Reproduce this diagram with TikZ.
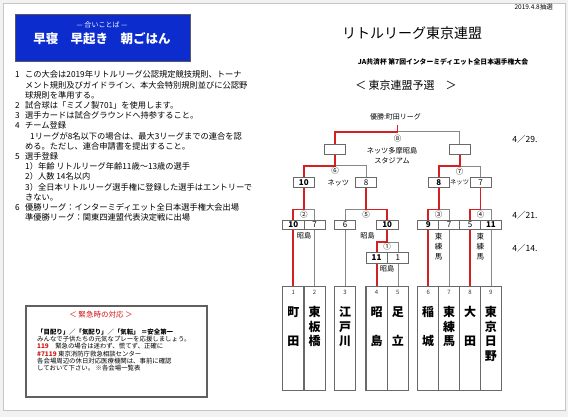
\documentclass[tikz,border=0pt]{standalone}
\usepackage{fontspec}
\setmainfont{Noto Sans CJK JP}
\definecolor{blu}{RGB}{12,44,205}
\definecolor{rd}{RGB}{212,32,32}
\definecolor{gl}{RGB}{135,135,135}
\definecolor{bx}{RGB}{105,105,105}
\definecolor{er}{RGB}{210,20,20}
\pgfdeclarelayer{bgfill}
\pgfdeclarelayer{lines}
\pgfsetlayers{bgfill,lines,main}
\newcommand{\fs}[2]{\fontsize{#1}{#2}\selectfont}
\begin{document}
\begin{tikzpicture}[x=1pt,y=-1pt,
  redl/.style={draw=rd,line width=1.8pt},
  grl/.style={draw=gl,line width=0.8pt},
  team/.style={draw=bx,line width=1.2pt,fill=white,minimum width=#1,minimum height=104.3pt,anchor=north,inner sep=0pt},
  team/.default=21.3pt,
  score/.style={draw=bx,line width=0.7pt,fill=white,minimum width=#1,minimum height=10pt,inner sep=0pt,font=\fs{8}{8}},
  score/.default=21.3pt,
  win/.style={font=\fs{8}{8}\bfseries},
  num/.style={inner sep=0pt,font=\fs{6}{6},text=black!80},
  tname/.style={inner sep=0pt,anchor=north,align=center,font=\fs{12}{14.6}\bfseries},
  circ/.style={inner sep=0pt,font=\fs{7.5}{7.5}},
  venue/.style={inner sep=0pt,font=\fs{7.2}{10},align=center},
  date/.style={inner sep=0pt,font=\fs{8.5}{8.5}},
  rules/.style={inner sep=0pt,anchor=north west,align=left,font=\fs{8.25}{10.2}}
]
\useasboundingbox (0,0) rectangle (568,417);
\begin{pgfonlayer}{bgfill}
\fill[gray!10] (0,0) rectangle (568,417);
\filldraw[fill=white,draw=gray!45,line width=0.8pt] (3,3) rectangle (565,410);
\end{pgfonlayer}

% ---- top-left slogan box
\node[draw=gray!70!black,line width=0.8pt,fill=blu,minimum width=175pt,minimum height=47pt,inner sep=0pt] (slogan) at (102.5,37.5) {};
\node[inner sep=0pt,text=white,font=\fs{7}{7}] (aikotoba) at (102,25) {— 合いことば —};
\node[inner sep=0pt,text=white,font=\fs{12.5}{12.5}\bfseries] (haya) at (102,38.5) {早寝　早起き　朝ごはん};

% ---- rules
\node[rules] (rulestext) at (15,70.8) {%
\makebox[10pt][l]{1}この大会は2019年リトルリーグ公認規定競技規則、トーナ\\
\hspace*{10pt}メント規則及びガイドライン、本大会特別規則並びに公認野\\
\hspace*{10pt}球規則を準用する。\\
\makebox[10pt][l]{2}試合球は「ミズノ製701」を使用します。\\
\makebox[10pt][l]{3}選手カードは試合グラウンドへ持参すること。\\
\makebox[10pt][l]{4}チーム登録\\
\hspace*{15pt}1リーグが8名以下の場合は、最大3リーグまでの連合を認\\
\hspace*{10pt}める。ただし、連合申請書を提出すること。\\
\makebox[10pt][l]{5}選手登録\\
\hspace*{10pt}1）年齢\ リトルリーグ年齢11歳～13歳の選手\\
\hspace*{10pt}2）人数\ 14名以内\\
\hspace*{10pt}3）全日本リトルリーグ選手権に登録した選手はエントリーで\\
\hspace*{10pt}きない。\\
\makebox[10pt][l]{6}優勝リーグ：インターミディエット全日本選手権大会出場\\
\hspace*{10pt}準優勝リーグ：関東四連盟代表決定戦に出場};

% ---- emergency box
\node[draw=gray!75!black,line width=1.3pt,minimum width=181pt,minimum height=91pt,inner sep=0pt] (emg) at (116.5,351.5) {};
\node[inner sep=0pt,text=er,font=\fs{7.5}{7.5}] (emgtitle) at (101,315) {＜ 緊急時の対応 ＞};
\node[inner sep=0pt,anchor=north west,align=left,font=\fs{6.4}{7.3}] (emgtext) at (37,328.5) {%
{\bfseries 「目配り」／「気配り」／「気転」 ＝安全第一}\\
みんなで子供たちの元気なプレーを応援しましょう。\\
{\color{er}\bfseries 119}\quad 緊急の場合は迷わず、慌てず、正確に\\
{\color{er}\bfseries\#7119} 東京消防庁救急相談センター\\
各会場周辺の休日対応医療機関は、事前に確認\\
しておいて下さい。 ※各会場一覧表};

% ---- header
\node[inner sep=0pt,anchor=east,font=\fs{6.5}{6.5}] (drawdate) at (553,7) {2019.4.8抽選};
\node[inner sep=0pt,font=\fs{14}{14}] (title) at (412,33) {リトルリーグ東京連盟};
\node[inner sep=0pt,font=\fs{6.8}{6.8}\bfseries] (subtitle) at (443,62) {JA共済杯\ 第7回インターミディエット全日本選手権大会};
\node[inner sep=0pt,font=\fs{11}{11}] (yosen) at (406,85) {＜ 東京連盟予選　＞};

% ---- team boxes
\node[team] (t1) at (293.3,285.7) {};
\node[team] (t2) at (314.6,285.7) {};
\node[team] (t3) at (345.0,285.7) {};
\node[team] (t4) at (376.6,285.7) {};
\node[team] (t5) at (397.9,285.7) {};
\node[team=20.9pt] (t6) at (428.2,285.7) {};
\node[team=20.9pt] (t7) at (449.1,285.7) {};
\node[team=20.9pt] (t8) at (470.0,285.7) {};
\node[team=20.9pt] (t9) at (490.9,285.7) {};
\foreach \i/\x in {1/293.3,2/314.6,3/345.0,4/376.6,5/397.9,6/428.2,7/449.1,8/470.0,9/490.9}
  \node[num] (n\i) at (\x,292.7) {\i};
\node[tname] (nm1) at (293.3,306.3) {町\\~\\田};
\node[tname] (nm2) at (314.6,306.3) {東\\板\\橋};
\node[tname] (nm3) at (345.0,306.3) {江\\戸\\川};
\node[tname] (nm4) at (376.6,306.3) {昭\\~\\島};
\node[tname] (nm5) at (397.9,306.3) {足\\~\\立};
\node[tname] (nm6) at (428.2,306.3) {稲\\~\\城};
\node[tname] (nm7) at (449.1,306.3) {東\\練\\馬};
\node[tname] (nm8) at (470.0,306.3) {大\\~\\田};
\node[tname] (nm9) at (490.9,306.3) {東\\京\\日\\野};

% ---- score boxes
\node[score,minimum height=9.5pt,win] (s2a) at (293.3,225) {10};
\node[score,minimum height=9.5pt] (s2b) at (314.6,225) {7};
\node[score,minimum height=9.5pt] (s5a) at (345.0,225) {6};
\node[score,minimum height=9.5pt,win] (s5b) at (387.2,225) {10};
\node[score=20.9pt,minimum height=9.5pt,win] (s3a) at (428.2,225) {9};
\node[score=20.9pt,minimum height=9.5pt] (s3b) at (449.1,225) {7};
\node[score=20.9pt,minimum height=9.5pt] (s4a) at (470.0,225) {5};
\node[score=20.9pt,minimum height=9.5pt,win] (s4b) at (490.9,225) {11};
\node[score,minimum height=10.5pt,win] (s1a) at (376.6,258) {11};
\node[score,minimum height=10.5pt] (s1b) at (397.9,258) {1};
\node[score=21pt,win] (s6a) at (303.8,182.3) {10};
\node[score=21pt] (s6b) at (366.2,182.3) {8};
\node[score=21pt,win] (s7a) at (438.8,182.3) {8};
\node[score=21pt] (s7b) at (480.5,182.3) {7};
\node[score=21.5pt,minimum height=10.5pt] (e1) at (335,149.2) {};
\node[score=21.5pt,minimum height=10.5pt] (e2) at (459.65,149.2) {};

% ---- labels
\node[inner sep=0pt,font=\fs{7}{7}] (champ) at (395.5,117.3) {優勝:町田リーグ};
\node[circ] (c8) at (397.5,138.3) {⑧};
\node[circ] (c6) at (335,170.7) {⑥};
\node[circ] (c7) at (459.6,171.7) {⑦};
\node[circ] (c2) at (303.8,214.5) {②};
\node[circ] (c5) at (366.2,214.5) {⑤};
\node[circ] (c3) at (438.7,214.5) {③};
\node[circ] (c4) at (480.5,214.5) {④};
\node[circ] (c1) at (387.2,247) {①};
\node[venue] (v8) at (392,155.5) {ネッツ多摩昭島\\スタジアム};
\node[venue] (v6) at (338.3,182.7) {ネッツ};
\node[venue,font=\fs{6.3}{6.3}] (v7) at (459.6,182.7) {ネッツ};
\node[venue] (v2) at (304,236) {昭島};
\node[venue] (v5) at (367.5,236) {昭島};
\node[venue] (v1) at (387,269) {昭島};
\node[venue,anchor=north,font=\fs{7.5}{10}] (v3) at (438.6,233) {東\\練\\馬};
\node[venue,anchor=north,font=\fs{7.5}{10}] (v4) at (480.3,233) {東\\練\\馬};
\node[date] (d29) at (525,139.3) {4／29.};
\node[date] (d21) at (525,215) {4／21.};
\node[date] (d14) at (525,248.3) {4／14.};

% ---- bracket connectors
\coordinate (top) at (397.5,125);
\coordinate (j8) at (397.5,131.7);
\coordinate (j6) at (335,165.7);
\coordinate (j7) at (459.65,166);
\coordinate (j2) at (303.8,209.5);
\coordinate (j5) at (366.2,209.5);
\coordinate (j1) at (387.2,242.3);
\coordinate (j3) at (438.8,209.5);
\coordinate (j4) at (480.5,209.5);
\begin{pgfonlayer}{lines}
\draw[grl] (j8) -| (e2.north);
\draw[grl] (j6) -| (s6b.north);
\draw[grl] (j7) -| (s7b.north);
\draw[grl] (j2) -| (t2.north);
\draw[grl] (j5) -| (t3.north);
\draw[grl] (j1) -| (t5.north);
\draw[grl] (j3) -| (t7.north);
\draw[grl] (j4) -| (t9.north);
\draw[redl] (top) -- (j8) -| (e1.north);
\draw[redl] (e1.south) -- (j6) -| (s6a.north);
\draw[redl] (e2.south) -- (j7) -| (s7a.north);
\draw[redl] (s6a.south) -- (j2) -| (t1.north);
\draw[redl] (s6b.south) -- (j5) -| (s5b.north);
\draw[redl] (s5b.south) -- (j1) -| (t4.north);
\draw[redl] (s7a.south) -- (j3) -| (t6.north);
\draw[redl] (s7b.south) -- (j4) -| (t8.north);
\end{pgfonlayer}
\end{tikzpicture}
\end{document}
